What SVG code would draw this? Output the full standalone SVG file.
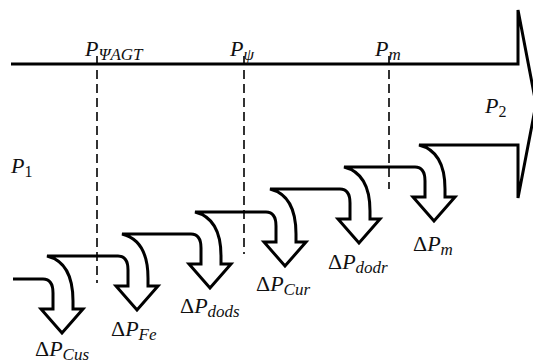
<svg xmlns="http://www.w3.org/2000/svg" width="533" height="363" viewBox="0 0 533 363">
<style>
.outline{fill:none;stroke:#000;stroke-width:3;stroke-linejoin:miter;stroke-miterlimit:4}
.dash{fill:none;stroke:#000;stroke-width:1.6;stroke-dasharray:9 5}
text{font-family:"Liberation Serif","Times New Roman","DejaVu Serif",serif}
.t{font-size:22px;fill:#111}
.i{font-style:italic}
.s{font-style:italic;font-size:17px}
.n{font-size:16px}
</style>
<rect width="533" height="363" fill="#fff"/>
<g id="flow">
<path class="outline" d="M13,279 L43,279 C51,279 53,285 53,293 L53,309 L41,309 L62,333 L83,309 L73,309 L73,301 C73,274 63,260 47,256
L118,256 C126,256 128,262 128,270 L128,286 L116,286 L137,310 L158,286 L148,286 L148,278 C148,251 138,238 122,234
L191,234 C199,234 201,240 201,248 L201,264 L189,264 L210,288 L231,264 L221,264 L221,256 C221,229 211,216 195,212
L266,212 C274,212 276,218 276,226 L276,242 L264,242 L285,266 L306,242 L296,242 L296,234 C296,207 286,193 270,189
L340,189 C348,189 350,195 350,203 L350,219 L338,219 L359,243 L380,219 L370,219 L370,211 C370,184 360,171 344,167
L415,167 C423,167 425,173 425,181 L425,197 L413,197 L434,221 L455,197 L445,197 L445,189 C445,162 435,149 419,145
L518,145 L518,198 L536,104 L518,10 L518,64 L11,64"/>
</g>
<g id="connectors">
<line class="dash" x1="97" y1="56" x2="97" y2="283"/>
<line class="dash" x1="244" y1="56" x2="244" y2="254"/>
<line class="dash" x1="389" y1="56" x2="389" y2="189"/>
</g>
<g id="labels">
<g id="label-PpsiAGT"><text class="t" x="85" y="56"><tspan class="i">P</tspan><tspan class="s" dy="4">ΨAGT</tspan></text></g>
<g id="label-Ppsi"><text class="t" x="230" y="56"><tspan class="i">P</tspan><tspan class="s" dy="4">ψ</tspan></text></g>
<g id="label-Pm"><text class="t" x="375" y="56"><tspan class="i">P</tspan><tspan class="s" dy="4">m</tspan></text></g>
<g id="label-P1"><text class="t" x="11" y="173"><tspan class="i">P</tspan><tspan class="n" dy="4">1</tspan></text></g>
<g id="label-P2"><text class="t" x="485" y="113"><tspan class="i">P</tspan><tspan class="n" dy="4">2</tspan></text></g>
<g id="label-dPCus"><text class="t" x="35" y="356">Δ<tspan class="i">P</tspan><tspan class="s" dy="4">Cus</tspan></text></g>
<g id="label-dPFe"><text class="t" x="111" y="336">Δ<tspan class="i">P</tspan><tspan class="s" dy="4">Fe</tspan></text></g>
<g id="label-dPdods"><text class="t" x="180" y="313">Δ<tspan class="i">P</tspan><tspan class="s" dy="4">dods</tspan></text></g>
<g id="label-dPCur"><text class="t" x="256" y="291">Δ<tspan class="i">P</tspan><tspan class="s" dy="4">Cur</tspan></text></g>
<g id="label-dPdodr"><text class="t" x="328" y="269">Δ<tspan class="i">P</tspan><tspan class="s" dy="4">dodr</tspan></text></g>
<g id="label-dPm"><text class="t" x="413" y="251">Δ<tspan class="i">P</tspan><tspan class="s" dy="4">m</tspan></text></g>
</g>
</svg>
